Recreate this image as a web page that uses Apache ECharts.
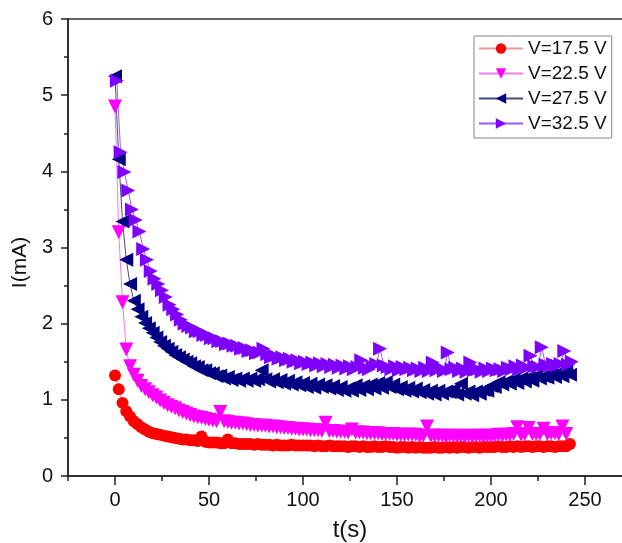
<!DOCTYPE html>
<html>
<head>
<meta charset="utf-8">
<script src="https://cdn.jsdelivr.net/npm/echarts@6/dist/echarts.min.js"></script>
<style>html,body{margin:0;padding:0;background:#fff;}#c{width:622px;height:543px;}</style>
</head>
<body>
<div id="c"></div>
<script>
// sampling times (s)
const timesEven = Array.from({length: 122}, (_, i) => i * 2);      // 0,2,...,242
const timesOdd = Array.from({length: 122}, (_, i) => i * 2 + 1);   // 1,3,...,243

const seriesNames = ['V=17.5 V', 'V=22.5 V', 'V=27.5 V', 'V=32.5 V'];

const i175 = [1.32,1.14,0.96,0.85,0.78,0.72,0.68,0.64,0.61,0.58,
0.56,0.55,0.54,0.53,0.52,0.51,0.50,0.49,0.48,0.48,
0.47,0.47,0.46,0.52,0.45,0.44,0.44,0.44,0.43,0.43,
0.48,0.43,0.43,0.42,0.42,0.42,0.42,0.41,0.42,0.41,
0.41,0.41,0.40,0.41,0.40,0.40,0.40,0.41,0.40,0.40,
0.40,0.40,0.40,0.39,0.40,0.39,0.39,0.40,0.39,0.39,
0.39,0.39,0.38,0.39,0.39,0.38,0.39,0.38,0.38,0.39,
0.38,0.38,0.39,0.38,0.38,0.37,0.38,0.38,0.37,0.38,
0.37,0.38,0.37,0.37,0.37,0.38,0.37,0.37,0.38,0.37,
0.38,0.37,0.38,0.38,0.37,0.38,0.38,0.37,0.38,0.38,
0.38,0.38,0.39,0.38,0.38,0.39,0.38,0.39,0.38,0.39,
0.39,0.38,0.39,0.39,0.38,0.39,0.39,0.38,0.39,0.39,
0.39,0.42];

const i225 = [4.85,3.20,2.28,1.66,1.44,1.33,1.25,1.18,1.14,1.10,
1.06,1.03,0.99,0.96,0.93,0.91,0.89,0.86,0.84,0.82,
0.80,0.78,0.77,0.76,0.75,0.74,0.73,0.72,0.84,0.72,
0.71,0.70,0.70,0.69,0.69,0.68,0.67,0.67,0.66,0.66,
0.66,0.65,0.65,0.64,0.64,0.63,0.63,0.62,0.62,0.61,
0.61,0.61,0.60,0.60,0.60,0.59,0.70,0.59,0.59,0.58,
0.58,0.58,0.57,0.61,0.57,0.57,0.57,0.56,0.56,0.56,
0.56,0.55,0.55,0.55,0.55,0.54,0.54,0.54,0.54,0.54,
0.54,0.53,0.53,0.65,0.53,0.53,0.53,0.53,0.52,0.53,
0.53,0.52,0.53,0.52,0.53,0.52,0.53,0.53,0.52,0.53,
0.53,0.53,0.54,0.53,0.54,0.54,0.55,0.64,0.54,0.55,
0.63,0.55,0.55,0.55,0.62,0.55,0.56,0.56,0.55,0.65,
0.55];

const i275 = [5.25,4.16,3.34,2.84,2.52,2.30,2.19,2.09,2.01,1.94,
1.88,1.82,1.76,1.71,1.67,1.63,1.59,1.56,1.53,1.50,
1.48,1.44,1.43,1.39,1.39,1.35,1.35,1.31,1.32,1.28,
1.30,1.26,1.28,1.25,1.28,1.25,1.28,1.25,1.27,1.39,
1.27,1.24,1.27,1.23,1.26,1.21,1.25,1.20,1.23,1.19,
1.22,1.17,1.21,1.16,1.20,1.17,1.19,1.15,1.18,1.13,
1.17,1.12,1.15,1.12,1.19,1.13,1.18,1.14,1.20,1.15,
1.22,1.16,1.23,1.17,1.20,1.14,1.17,1.12,1.16,1.11,
1.15,1.10,1.13,1.08,1.12,1.07,1.12,1.08,1.11,1.10,
1.14,1.07,1.21,1.08,1.11,1.06,1.11,1.08,1.13,1.12,
1.18,1.17,1.23,1.20,1.24,1.21,1.27,1.22,1.28,1.24,
1.30,1.25,1.32,1.28,1.31,1.29,1.35,1.30,1.36,1.31,
1.37,1.33];

const i325 = [5.19,4.25,3.99,3.75,3.50,3.36,3.21,2.98,2.84,2.69,
2.59,2.52,2.44,2.35,2.25,2.19,2.12,2.05,2.00,1.97,
1.95,1.90,1.90,1.85,1.85,1.81,1.81,1.77,1.77,1.73,
1.74,1.71,1.71,1.67,1.68,1.64,1.65,1.61,1.62,1.67,
1.60,1.56,1.58,1.54,1.56,1.52,1.54,1.50,1.52,1.48,
1.50,1.47,1.49,1.45,1.48,1.44,1.47,1.43,1.46,1.42,
1.45,1.41,1.44,1.40,1.43,1.52,1.42,1.40,1.44,1.47,
1.67,1.45,1.43,1.40,1.44,1.39,1.43,1.40,1.42,1.39,
1.41,1.38,1.42,1.38,1.49,1.39,1.42,1.38,1.62,1.40,
1.42,1.38,1.41,1.37,1.49,1.39,1.40,1.37,1.41,1.38,
1.41,1.39,1.40,1.38,1.42,1.40,1.44,1.40,1.45,1.42,
1.58,1.44,1.43,1.69,1.46,1.44,1.47,1.45,1.47,1.64,
1.46,1.50];

const xMajorTicks = [0, 50, 100, 150, 200, 250];

function pairs(ts, vs) { return vs.map((v, i) => [ts[i], v]); }

const FONT = '"Liberation Sans", Arial, sans-serif';
const chart = echarts.init(document.getElementById('c'), null, {renderer: 'canvas'});

function mk(name, ts, vs, color, lineColor, symbol, rot, size) {
  return {
    name: name, type: 'line', data: pairs(ts, vs),
    symbol: symbol, symbolSize: size, symbolRotate: rot,
    showSymbol: true, showAllSymbol: true,
    itemStyle: {color: color},
    lineStyle: {color: lineColor, width: 1},
    emphasis: {disabled: true},
    animation: false
  };
}

chart.setOption({
  animation: false,
  backgroundColor: '#fff',
  grid: {left: 68, right: -10, top: 19, bottom: 67, outerBoundsMode: 'none', containLabel: false,
    show: true, borderColor: '#333', borderWidth: 1.5, backgroundColor: 'transparent'},
  legend: {
    orient: 'vertical', left: 474, top: 36,
    itemWidth: 44, itemHeight: 13, itemGap: 6,
    padding: [3, 5, 5, 4],
    borderColor: '#888', borderWidth: 1,
    textStyle: {fontFamily: FONT, fontSize: 19, color: '#111'},
    data: seriesNames
  },
  xAxis: [{
    type: 'value', min: -25, max: 275, interval: 25,
    axisLine: {onZero: false, lineStyle: {color: '#222', width: 1.5}},
    axisTick: {inside: false, length: 5, lineStyle: {color: '#222', width: 1.5}},
    axisLabel: {fontFamily: FONT, fontSize: 20, color: '#111', margin: 14,
      formatter: v => (v % 50 === 0 ? String(v) : '')},
    splitLine: {show: false},
    name: 't(s)', nameLocation: 'middle', nameGap: 42,
    nameTextStyle: {fontFamily: FONT, fontSize: 24, color: '#111'}
  }, {
    type: 'value', min: -25, max: 275, position: 'bottom', offset: 0,
    axisLine: {show: false, onZero: false},
    axisTick: {show: true, inside: false, length: 9, customValues: xMajorTicks, lineStyle: {color: '#222', width: 1.5}},
    axisLabel: {show: false},
    splitLine: {show: false}
  }],
  yAxis: {
    type: 'value', min: 0, max: 6, interval: 1,
    axisLine: {show: true, onZero: false, lineStyle: {color: '#222', width: 1.5}},
    axisTick: {show: true, inside: false, length: 7, lineStyle: {color: '#222', width: 1.5}},
    minorTick: {show: true, splitNumber: 2, length: 4, lineStyle: {color: '#222', width: 1.5}},
    axisLabel: {fontFamily: FONT, fontSize: 20, color: '#111', margin: 15},
    splitLine: {show: false},
    name: 'I(mA)', nameLocation: 'middle', nameGap: 37, nameRotate: 90,
    nameTextStyle: {fontFamily: FONT, fontSize: 21, color: '#111', padding: [0, 30, 0, 0]}
  },
  series: [
    mk(seriesNames[0], timesEven, i175, '#ff0000', '#e89a9a', 'circle', 0, 12),
    mk(seriesNames[1], timesEven, i225, '#ff00ff', '#f07af0', 'triangle', 180, 14),
    mk(seriesNames[2], timesEven, i275, '#000080', '#4a4a80', 'triangle', 90, 14),
    mk(seriesNames[3], timesOdd, i325, '#7f00ff', '#9a5cf0', 'triangle', -90, 14)
  ]
});
</script>
</body>
</html>
